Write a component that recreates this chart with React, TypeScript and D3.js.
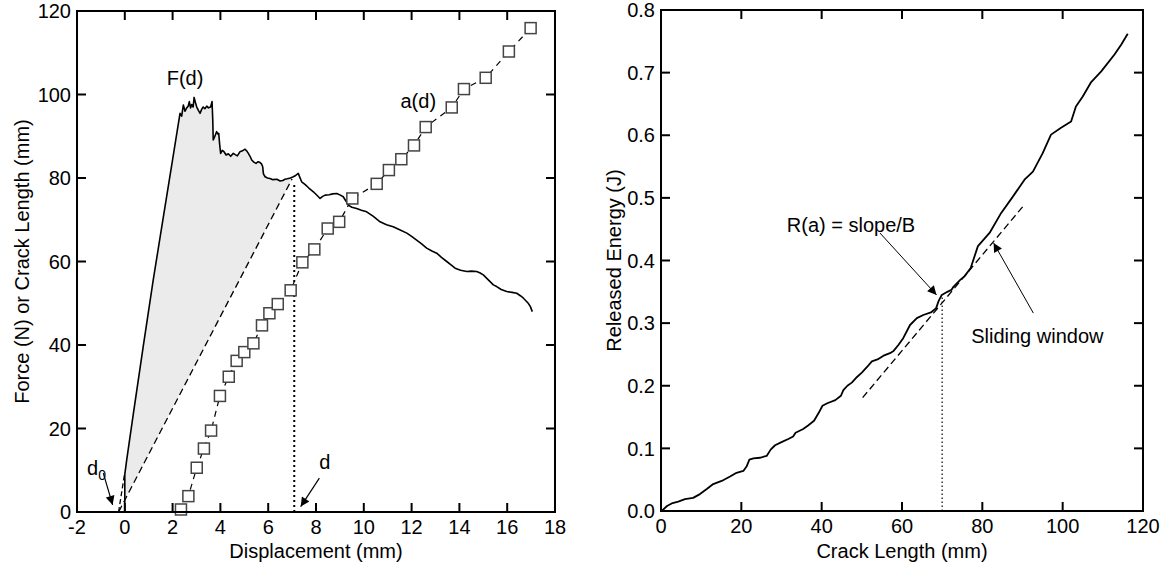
import React from 'react';
import * as d3 from 'd3';

// ---------- tick values ----------
const dispTicks = [-2, 0, 2, 4, 6, 8, 10, 12, 14, 16, 18];
const forceTicks = [0, 20, 40, 60, 80, 100, 120];
const crackTicks = [0, 20, 40, 60, 80, 100, 120];
const energyTicks = [0, 0.1, 0.2, 0.3, 0.4, 0.5, 0.6, 0.7, 0.8];

// ---------- left panel data: F(d) ----------
const forceCurve: [number, number][] = [
  [0, 0], [0, 9], [0.08, 12.5], [0.36, 23.6], [0.77, 39.6], [1.19, 55.6], [1.6, 70.2], [2.0, 84.4], [2.31, 95.5],
  [2.38, 94.8], [2.45, 97.5], [2.52, 96], [2.59, 96.8], [2.65, 97.2], [2.7, 98.3], [2.75, 96.8], [2.8, 97.6],
  [2.86, 97.0], [2.9, 99.3], [2.96, 98.0], [3.01, 97], [3.08, 96.2], [3.15, 95.5], [3.22, 96.5], [3.28, 97],
  [3.35, 96.6], [3.43, 97.2], [3.5, 96.8], [3.59, 97.0], [3.65, 98.3], [3.68, 94], [3.7, 89.1], [3.77, 90],
  [3.84, 91.1], [3.9, 90.5], [3.93, 90.7], [3.97, 88], [4.01, 85.9], [4.08, 86.6], [4.15, 86.3], [4.24, 85.5],
  [4.33, 85.8], [4.43, 85.2], [4.54, 85.9], [4.62, 85.6], [4.71, 85.3], [4.82, 86.3], [4.92, 86.5], [5.03, 86.9],
  [5.1, 86.5], [5.17, 85.9], [5.24, 85.2], [5.31, 84.3], [5.4, 83.8], [5.49, 83.5], [5.58, 83.9], [5.66, 83.7],
  [5.72, 83.4], [5.77, 82.7], [5.8, 81], [5.87, 80.3], [5.97, 80.0], [6.07, 79.9], [6.2, 79.6], [6.36, 79.7],
  [6.5, 79.3], [6.61, 79.4], [6.7, 79.7], [6.8, 79.8], [6.93, 80.0], [7.05, 80.3], [7.15, 80.6], [7.26, 81.1],
  [7.32, 80.2], [7.4, 79.1], [7.55, 78.4], [7.7, 77.6], [7.89, 76.7], [8.05, 75.8], [8.17, 75.1], [8.28, 75.6],
  [8.38, 75.9], [8.55, 76.0], [8.7, 76.2], [8.87, 76.3], [9.02, 75.9], [9.14, 75.5], [9.25, 74.5], [9.35, 73.5],
  [9.5, 73.0], [9.7, 72.7], [9.9, 72.3], [10.12, 71.9], [10.4, 70.8], [10.68, 69.5], [10.95, 68.8], [11.23, 68.3],
  [11.5, 67.6], [11.8, 66.8], [12.0, 66.0], [12.21, 65.1], [12.42, 64.2], [12.63, 63.2], [12.85, 62.5],
  [13.05, 62.0], [13.25, 61.0], [13.47, 60.0], [13.65, 59.2], [13.82, 58.4], [14.05, 57.9], [14.31, 57.6],
  [14.5, 57.7], [14.72, 57.6], [14.85, 57.3], [15.0, 56.8], [15.21, 55.6], [15.42, 54.4], [15.56, 54.0],
  [15.75, 53.3], [15.98, 52.8], [16.2, 52.6], [16.4, 52.4], [16.55, 51.8], [16.68, 51.2], [16.88, 50.0],
  [16.97, 49.2], [17.05, 48.0],
];

// ---------- left panel data: a(d) ----------
const crackGrowth: [number, number][] = [
  [2.35, 0.6], [2.66, 3.8], [3.01, 10.6], [3.31, 15.2], [3.61, 19.5], [3.98, 27.8], [4.35, 32.4], [4.68, 36.2],
  [5.0, 38.3], [5.38, 40.4], [5.74, 44.7], [6.05, 47.6], [6.4, 49.8], [6.94, 53.1], [7.43, 59.8], [7.93, 62.9],
  [8.49, 67.9], [8.97, 69.5], [9.52, 75.1], [10.54, 78.6], [11.05, 81.9], [11.57, 84.5], [12.1, 87.8],
  [12.59, 92.2], [13.68, 96.9], [14.19, 101.3], [15.1, 104.0], [16.07, 110.3], [16.98, 115.9],
];

const d0 = -0.26;           // zero-force intercept
const dCurrent = 7.09;      // current displacement d
const secantEnd: [number, number] = [7.0, 79.8];
const loadingEnd: [number, number] = [0, 9.5];
const dottedTop = 79;

// ---------- right panel data ----------
const energyCurve: [number, number][] = [
  [0.17, 0], [1.5, 0.008], [2.66, 0.012], [4.3, 0.015], [5.97, 0.019], [8.0, 0.021], [9.7, 0.027], [11.4, 0.035],
  [13.0, 0.043], [15.1, 0.048], [17.2, 0.055], [18.8, 0.061], [20.5, 0.064], [21.3, 0.071], [22.0, 0.082],
  [23.0, 0.084], [24.6, 0.085], [26.3, 0.088], [27.3, 0.098], [28.4, 0.105], [30.0, 0.11], [31.7, 0.115],
  [32.9, 0.119], [33.5, 0.125], [35.4, 0.131], [36.7, 0.137], [38.1, 0.144], [39.2, 0.156], [40.2, 0.168],
  [41.4, 0.172], [43.4, 0.177], [44.8, 0.184], [45.4, 0.193], [46.4, 0.2], [47.5, 0.205], [48.8, 0.214],
  [50.0, 0.221], [51.3, 0.23], [52.5, 0.239], [53.9, 0.242], [55.4, 0.248], [57.0, 0.252], [57.8, 0.255],
  [59.1, 0.265], [60.3, 0.276], [62.0, 0.297], [63.7, 0.308], [65.3, 0.313], [67.2, 0.317], [68.5, 0.324],
  [69.1, 0.335], [69.9, 0.345], [71.3, 0.35], [72.3, 0.353], [72.8, 0.358], [74.5, 0.369], [75.6, 0.375],
  [77.1, 0.388], [78.9, 0.423], [81.8, 0.444], [84.7, 0.476], [87.6, 0.502], [90.5, 0.529], [92.6, 0.542],
  [95.0, 0.571], [97.1, 0.601], [99.6, 0.612], [102.1, 0.622], [103.3, 0.646], [105.0, 0.662], [107.1, 0.685],
  [109.6, 0.702], [112.9, 0.729], [114.6, 0.745], [116.2, 0.762],
];
const slidingWindow: [number, number][] = [[50.2, 0.181], [90.2, 0.487]];
const aCurrent = 70;
const aDottedTop = 0.345;

const FONT = "'Liberation Sans', Arial, Helvetica, sans-serif";
const TICK = 9;

type Scale = d3.ScaleLinear<number, number>;

function Frame({ x, y, xTicks, yTicks, xFmt, yFmt }: { x: Scale; y: Scale; xTicks: number[]; yTicks: number[]; xFmt: (v: number) => string; yFmt: (v: number) => string }) {
  const [x0, x1] = x.range();
  const [y0, y1] = y.range(); // y0 bottom, y1 top
  return (
    <g>
      {xTicks.map((t, i) => (
        <g key={'x' + i}>
          <line x1={x(t)} x2={x(t)} y1={y0} y2={y0 - TICK} stroke="#000" strokeWidth={2} />
          <line x1={x(t)} x2={x(t)} y1={y1} y2={y1 + TICK} stroke="#000" strokeWidth={2} />
          <text x={x(t)} y={y0 + 22} textAnchor="middle" fontSize={20} fontFamily={FONT}>{xFmt(t)}</text>
        </g>
      ))}
      {yTicks.map((t, i) => (
        <g key={'y' + i}>
          <line x1={x0} x2={x0 + TICK} y1={y(t)} y2={y(t)} stroke="#000" strokeWidth={2} />
          <line x1={x1} x2={x1 - TICK} y1={y(t)} y2={y(t)} stroke="#000" strokeWidth={2} />
          <text x={x0 - 6} y={y(t)} dy="0.36em" textAnchor="end" fontSize={20} fontFamily={FONT}>{yFmt(t)}</text>
        </g>
      ))}
      <rect x={x0} y={y1} width={x1 - x0} height={y0 - y1} fill="none" stroke="#000" strokeWidth={2} />
    </g>
  );
}

export default function App() {
  const xL = d3.scaleLinear().domain([-2, 18]).range([77, 555]);
  const yL = d3.scaleLinear().domain([0, 120]).range([512, 11]);
  const xR = d3.scaleLinear().domain([0, 120]).range([661, 1143]);
  const yR = d3.scaleLinear().domain([0, 0.8]).range([511, 10]);

  const lineL = d3.line<[number, number]>().x(d => xL(d[0])).y(d => yL(d[1]));
  const lineR = d3.line<[number, number]>().x(d => xR(d[0])).y(d => yR(d[1]));

  const secantAt = (d: number) => secantEnd[1] * (d - d0) / (secantEnd[0] - d0);
  const shade: [number, number][] = [
    [0, secantAt(0)],
    ...forceCurve.filter(p => p[1] >= 9 && p[0] <= secantEnd[0]),
    secantEnd,
  ];

  const sq = 11;

  return (
    <div style={{ position: 'absolute', left: 0, top: 0 }}>
      <svg width={1165} height={571} style={{ display: 'block', background: '#fff' }}>
        <defs>
          <marker id="ah" viewBox="0 0 10 10" refX={10} refY={5} markerWidth={11} markerHeight={9} markerUnits="userSpaceOnUse" orient="auto">
            <path d="M0,0 L10,5 L0,10 z" fill="#000" />
          </marker>
        </defs>

        {/* ----- left panel ----- */}
        <path d={(d3.line<[number, number]>().x(d => xL(d[0])).y(d => yL(d[1])))(shade) + 'Z'} fill="#ebebeb" stroke="none" />
        <path d={lineL([[d0, 0], secantEnd])!} fill="none" stroke="#000" strokeWidth={1.3} strokeDasharray="7,4" />
        <path d={lineL([[d0, 0], loadingEnd])!} fill="none" stroke="#000" strokeWidth={1.3} strokeDasharray="5,3" />
        <path d={lineL([[dCurrent, 0], [dCurrent, dottedTop]])!} fill="none" stroke="#000" strokeWidth={2} strokeDasharray="2,3" />
        <path d={lineL(forceCurve)!} fill="none" stroke="#000" strokeWidth={1.6} strokeLinejoin="round" />
        <path d={lineL(crackGrowth)!} fill="none" stroke="#000" strokeWidth={1.2} strokeDasharray="6,5" />
        {crackGrowth.map((p, i) => (
          <rect key={i} x={xL(p[0]) - sq / 2} y={yL(p[1]) - sq / 2} width={sq} height={sq} fill="#fff" stroke="#444" strokeWidth={1.5} />
        ))}
        <Frame x={xL} y={yL} xTicks={dispTicks} yTicks={forceTicks} xFmt={v => String(v)} yFmt={v => String(v)} />

        <text x={xL(2.52)} y={yL(102.3)} textAnchor="middle" fontSize={20} fontFamily={FONT}>F(d)</text>
        <text x={xL(12.28)} y={yL(96.8)} textAnchor="middle" fontSize={20} fontFamily={FONT}>a(d)</text>
        <text x={xL(-1.58)} y={yL(8.9)} fontSize={20} fontFamily={FONT}>d<tspan fontSize={14} dy={5}>0</tspan></text>
        <path d={lineL([[-0.9, 9.3], [-0.51, 1.7]])!} stroke="#000" strokeWidth={1.2} markerEnd="url(#ah)" fill="none" />
        <text x={xL(8.37)} y={yL(10.3)} textAnchor="middle" fontSize={20} fontFamily={FONT}>d</text>
        <path d={lineL([[8.14, 8.1], [7.36, 1.3]])!} stroke="#000" strokeWidth={1.2} markerEnd="url(#ah)" fill="none" />

        <text x={(xL.range()[0] + xL.range()[1]) / 2} y={558} textAnchor="middle" fontSize={20} fontFamily={FONT}>Displacement (mm)</text>
        <text transform={`translate(29,${(yL.range()[0] + yL.range()[1]) / 2}) rotate(-90)`} textAnchor="middle" fontSize={20} fontFamily={FONT}>Force (N) or Crack Length (mm)</text>

        {/* ----- right panel ----- */}
        <path d={lineR(slidingWindow)!} fill="none" stroke="#000" strokeWidth={1.3} strokeDasharray="7,4" />
        <path d={lineR([[aCurrent, 0], [aCurrent, aDottedTop]])!} fill="none" stroke="#000" strokeWidth={1.2} strokeDasharray="1.5,2.5" />
        <path d={lineR(energyCurve)!} fill="none" stroke="#000" strokeWidth={1.8} strokeLinejoin="round" />
        <Frame x={xR} y={yR} xTicks={crackTicks} yTicks={energyTicks} xFmt={v => String(v)} yFmt={d3.format('.1f')} />

        <text x={xR(47.3)} y={yR(0.446)} textAnchor="middle" fontSize={20} fontFamily={FONT}>R(a) = slope/B</text>
        <path d={lineR([[54.5, 0.444], [68.6, 0.345]])!} stroke="#000" strokeWidth={1} markerEnd="url(#ah)" fill="none" />
        <text x={xR(93.7)} y={yR(0.269)} textAnchor="middle" fontSize={20} fontFamily={FONT}>Sliding window</text>
        <path d={lineR([[92.7, 0.316], [82.8, 0.428]])!} stroke="#000" strokeWidth={1} markerEnd="url(#ah)" fill="none" />

        <text x={(xR.range()[0] + xR.range()[1]) / 2} y={558} textAnchor="middle" fontSize={20} fontFamily={FONT}>Crack Length (mm)</text>
        <text transform={`translate(621,${(yR.range()[0] + yR.range()[1]) / 2}) rotate(-90)`} textAnchor="middle" fontSize={20} fontFamily={FONT}>Released Energy (J)</text>
      </svg>
    </div>
  );
}
